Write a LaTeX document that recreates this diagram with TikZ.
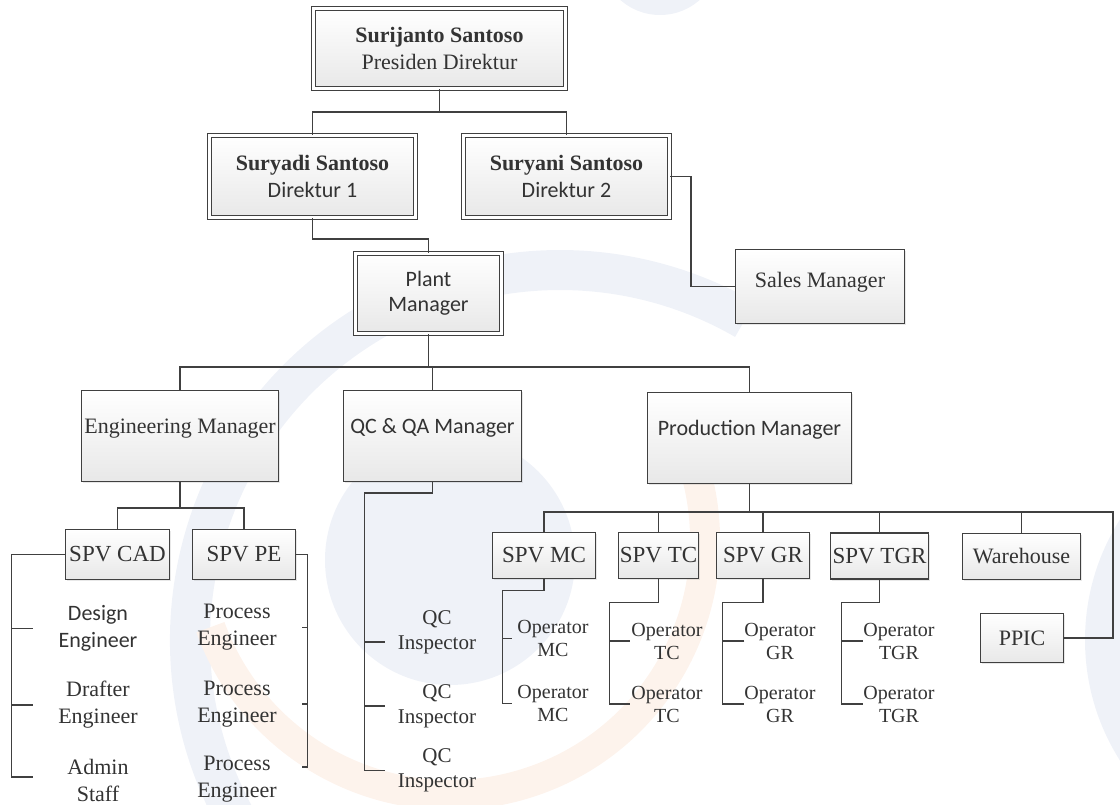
\documentclass[tikz,border=0pt]{standalone}
\usepackage{fontspec}
\setmainfont{Liberation Serif}
\newfontfamily\calib{Carlito}
\usetikzlibrary{shadows}

\definecolor{linegray}{HTML}{404040}
\definecolor{textgray}{HTML}{333333}
\definecolor{wmblue}{HTML}{EFF2F8}
\definecolor{wmorange}{HTML}{FDF3EC}

\tikzset{
	box/.style={draw=linegray, line width=1.2pt, top color=white, bottom color=black!9,
		drop shadow={opacity=0.18, shadow xshift=1.5pt, shadow yshift=-1.5pt},
		inner sep=1pt, align=center, text=textgray, font=\fontsize{22}{27}\selectfont},
	dbox/.style={box, double=white, double distance=2.5pt, line width=1pt},
	mgr/.style={box, minimum height=91pt, text height=16pt, text depth=21pt},
	spv/.style={box, minimum height=46pt, font=\fontsize{23}{27}\selectfont},
	staff/.style={align=center, inner sep=0pt, text=textgray, font=\fontsize{22}{27}\selectfont},
	oper/.style={staff, font=\fontsize{20}{23}\selectfont},
	link/.style={draw=linegray, line width=1.3pt},
}

\begin{document}
\begin{tikzpicture}[x=1pt, y=-1pt]

	\useasboundingbox (0,0) rectangle (1120,804);

	% watermark
	\begin{scope}
		\clip (0,0) rectangle (1120,804);
		\fill[wmblue] (660,-45) circle (60);
		\draw[wmblue, line width=40pt] ([shift={(150:370)}]560,640) arc (150:300:370);
		\fill[wmblue] (450,560) circle (125);
		\draw[wmorange, line width=30pt] ([shift={(-15:255)}]450,540) arc (-15:160:255);
		\fill[wmblue] (1310,640) circle (225);
	\end{scope}

	% directors
	\node[dbox, minimum width=252pt, minimum height=80pt] (pres) at (439.5,48.5)
	{\textbf{Surijanto Santoso}\\Presiden Direktur};
	\node[dbox, minimum width=206pt, minimum height=82pt] (dir1) at (312.5,176.5)
	{\textbf{Suryadi Santoso}\\{\calib Direktur 1}};
	\node[dbox, minimum width=206pt, minimum height=82pt] (dir2) at (566.5,176.5)
	{\textbf{Suryani Santoso}\\{\calib Direktur 2}};
	\node[dbox, minimum width=146pt, minimum height=80pt,
		font=\calib\fontsize{22}{25}\selectfont] (plant) at (428.5,293.5) {Plant\\Manager};
	\node[box, minimum width=169pt, minimum height=74pt,
		text height=16pt, text depth=15pt] (sales) at (820,286.5) {Sales Manager};

	% managers
	\node[mgr, minimum width=197pt] (eng) at (180,436) {Engineering Manager};
	\node[mgr, minimum width=178pt, font=\calib\fontsize{22}{27}\selectfont] (qc) at (432.5,436) {QC \& QA Manager};
	\node[mgr, minimum width=204pt, font=\calib\fontsize{22}{27}\selectfont] (prod) at (749.5,438) {Production Manager};

	% supervisors
	\node[spv, minimum width=104pt, minimum height=50pt] (cad) at (117.5,554.5) {SPV CAD};
	\node[spv, minimum width=103pt, minimum height=50pt] (pe) at (244,554.5) {SPV PE};
	\node[spv, minimum width=103pt] (mc) at (544,555.5) {SPV MC};
	\node[spv, minimum width=78pt] (tc) at (658.5,555.5) {SPV TC};
	\node[spv, minimum width=93pt] (gr) at (763,555.5) {SPV GR};
	\node[spv, minimum width=98pt] (tgr) at (879.5,556) {SPV TGR};
	\node[spv, minimum width=118pt, font=\fontsize{22}{27}\selectfont] (wh) at (1021.5,556.5) {Warehouse};
	\node[spv, minimum width=83pt, minimum height=49pt, font=\fontsize{22}{27}\selectfont] (ppic) at (1022,638) {PPIC};

	% staff
	\node[staff, minimum width=130pt, font=\calib\fontsize{22}{27}\selectfont] (de) at (98,628.5) {Design\\Engineer};
	\node[staff, minimum width=130pt] (dr) at (98,705) {Drafter\\Engineer};
	\node[staff, minimum width=130pt] (ad) at (98,780) {Admin\\Staff};
	\node[staff, minimum width=130pt] (pe1) at (237,627.5) {Process\\Engineer};
	\node[staff, minimum width=130pt] (pe2) at (237,704) {Process\\Engineer};
	\node[staff, minimum width=130pt] (pe3) at (237,779) {Process\\Engineer};
	\node[staff, minimum width=104pt, font=\fontsize{21}{25}\selectfont] (qc1) at (437,632.5) {QC\\Inspector};
	\node[staff, minimum width=104pt, font=\fontsize{21}{25}\selectfont] (qc2) at (437,706) {QC\\Inspector};
	\node[staff, minimum width=104pt, font=\fontsize{21}{25}\selectfont] (qc3) at (437,770.5) {QC\\Inspector};
	\node[oper, minimum width=82pt] (opmc1) at (553,638.5) {Operator\\MC};
	\node[oper, minimum width=82pt] (opmc2) at (553,703.5) {Operator\\MC};
	\node[oper, minimum width=74pt] (optc1) at (667,641) {Operator\\TC};
	\node[oper, minimum width=74pt] (optc2) at (667,704) {Operator\\TC};
	\node[oper, minimum width=70pt] (opgr1) at (780,641) {Operator\\GR};
	\node[oper, minimum width=70pt] (opgr2) at (780,704) {Operator\\GR};
	\node[oper, minimum width=72pt] (optgr1) at (899,641) {Operator\\TGR};
	\node[oper, minimum width=72pt] (optgr2) at (899,704) {Operator\\TGR};

	% connectors top
	\draw[link] (pres.south) -- ++(0,23) -| (dir1.north);
	\draw[link] (pres.south) -- ++(0,23) -| (dir2.north);
	\draw[link] (dir1.south) -- ++(0,21) -| (plant.north);
	\draw[link] (dir2.east) -- ++(21,0) |- (sales.west);
	\foreach \n in {eng,qc,prod}
		\draw[link] (plant.south) -- ++(0,33) -| (\n.north);

	% engineering
	\foreach \n in {cad,pe}
		\draw[link] (eng.south) -- ++(0,26) -| (\n.north);
	\draw[link] (cad.west) -| ([xshift=-21pt,yshift=3pt]ad.west) -- ([yshift=3pt]ad.west);
	\foreach \n in {de,dr}
		\draw[link] (\n.west) -- ++(-21,0);
	\draw[link] (pe.east) -| ([xshift=5pt,yshift=12pt]pe3.east) -- ([yshift=12pt]pe3.east);
	\foreach \n in {pe1,pe2}
		\draw[link] (\n.east) -- ++(5,0);

	% quality
	\draw[link] (qc.south) -- ++(0,11) -| ([xshift=-20pt]qc3.west) -- (qc3.west);
	\draw[link] ([yshift=-9.5pt]qc1.west) -- ++(-20,0);
	\draw[link] (qc2.west) -- ++(-20,0);

	% production
	\foreach \n in {mc,tc,gr,tgr,wh}
		\draw[link] (prod.south) -- ++(0,28) -| (\n.north);
	\draw[link] (prod.south) -- ++(0,28) -| ([xshift=49pt]ppic.east) -- (ppic.east);
	\foreach \s/\o/\d/\l in {mc/opmc/11.5/9, tc/optc/23.5/20, gr/opgr/23.5/22, tgr/optgr/23/21}{
		\draw[link] (\s.south) -- ++(0,\d) -| ([xshift=-\l pt]\o2.west) -- (\o2.west);
		\draw[link] (\o1.west) -- ++(-\l,0);
	}

\end{tikzpicture}
\end{document}
